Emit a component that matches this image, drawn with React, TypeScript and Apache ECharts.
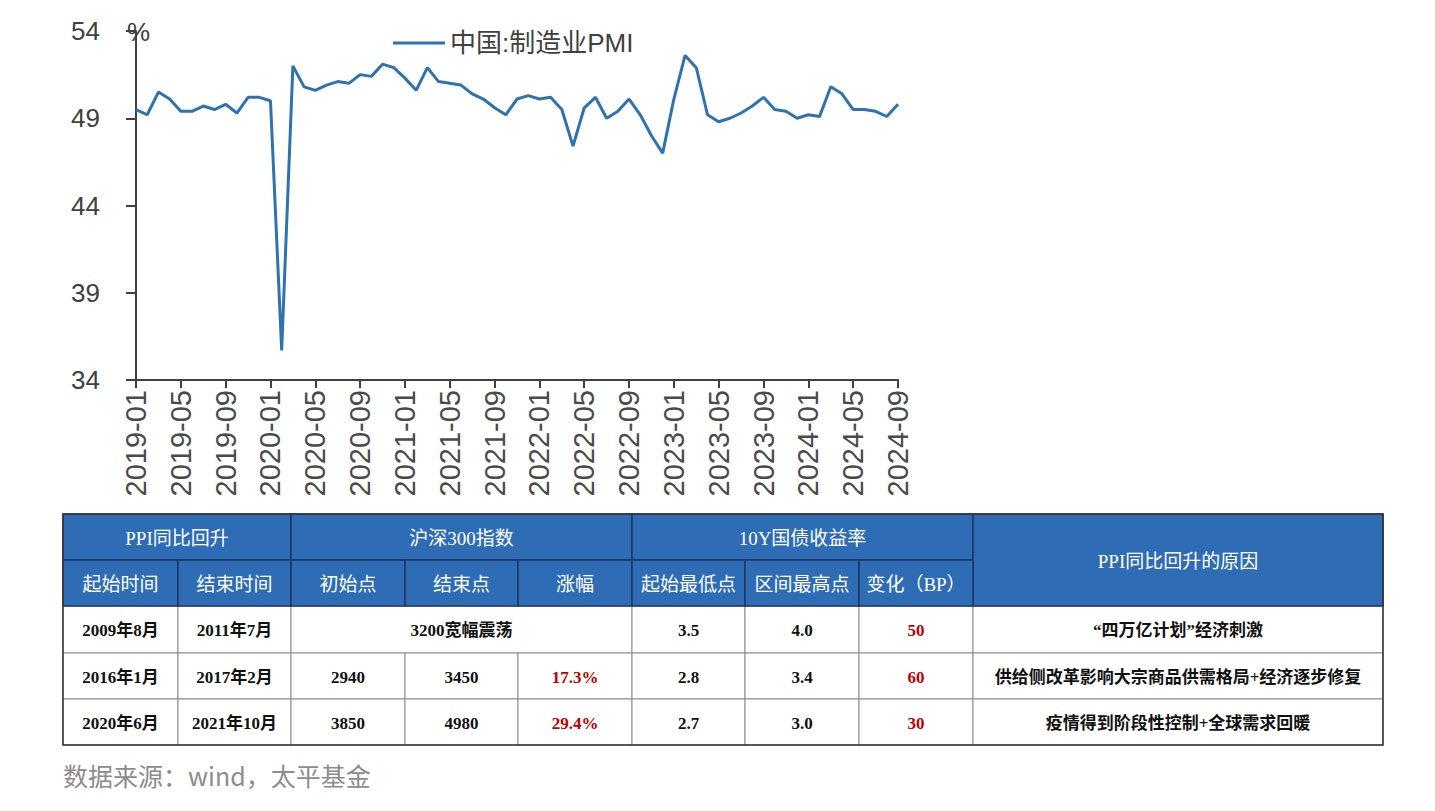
import React, { useEffect, useRef } from "react";
import * as echarts from "echarts";

// ---------- data ----------
const months: string[] = [];
for (let y = 2019; y <= 2024; y++) {
  for (let m = 1; m <= 12; m++) {
    if (y === 2024 && m > 9) break;
    months.push(`${y}-${String(m).padStart(2, "0")}`);
  }
}

const pmi = [
  49.5, 49.2, 50.5, 50.1, 49.4, 49.4, 49.7, 49.5, 49.8, 49.3, 50.2, 50.2,
  50.0, 35.7, 52.0, 50.8, 50.6, 50.9, 51.1, 51.0, 51.5, 51.4, 52.1, 51.9,
  51.3, 50.6, 51.9, 51.1, 51.0, 50.9, 50.4, 50.1, 49.6, 49.2, 50.1, 50.3,
  50.1, 50.2, 49.5, 47.4, 49.6, 50.2, 49.0, 49.4, 50.1, 49.2, 48.0, 47.0,
  50.1, 52.6, 51.9, 49.2, 48.8, 49.0, 49.3, 49.7, 50.2, 49.5, 49.4, 49.0,
  49.2, 49.1, 50.8, 50.4, 49.5, 49.5, 49.4, 49.1, 49.8,
];

const seriesName = "中国:制造业PMI";
const yUnit = "%";

// table data
const groupHeaders = ["PPI同比回升", "沪深300指数", "10Y国债收益率", "PPI同比回升的原因"];
const subHeaders = ["起始时间", "结束时间", "初始点", "结束点", "涨幅", "起始最低点", "区间最高点", "变化（BP）"];
const startDates = ["2009年8月", "2016年1月", "2020年6月"];
const endDates = ["2011年7月", "2017年2月", "2021年10月"];
const csiNote = ["3200宽幅震荡", "", ""];
const csiStart = ["", "2940", "3850"];
const csiEnd = ["", "3450", "4980"];
const csiGain = ["", "17.3%", "29.4%"];
const yieldLow = ["3.5", "2.8", "2.7"];
const yieldHigh = ["4.0", "3.4", "3.0"];
const yieldChangeBP = ["50", "60", "30"];
const reasons = [
  "“四万亿计划”经济刺激",
  "供给侧改革影响大宗商品供需格局+经济逐步修复",
  "疫情得到阶段性控制+全球需求回暖",
];
const sourceText = "数据来源：wind，太平基金";

// ---------- layout ----------
const colX = [63, 178, 291, 405, 518, 632, 745, 859, 973, 1383];
const rowY = [514, 560, 606, 653, 699, 745];
const HEADER_BG = "#2E6DB5";
const HEADER_LINE = "#1E3760";
const RED = "#C00000";
const SERIF = "'Liberation Serif', 'Noto Sans CJK SC', serif";
const SANS = "'Liberation Sans', 'Noto Sans CJK SC', sans-serif";

type Cell = { text: string; c0: number; c1: number; r0: number; r1: number; header: boolean; red?: boolean };

function buildCells(): Cell[] {
  const cells: Cell[] = [];
  cells.push({ text: groupHeaders[0], c0: 0, c1: 2, r0: 0, r1: 1, header: true });
  cells.push({ text: groupHeaders[1], c0: 2, c1: 5, r0: 0, r1: 1, header: true });
  cells.push({ text: groupHeaders[2], c0: 5, c1: 8, r0: 0, r1: 1, header: true });
  cells.push({ text: groupHeaders[3], c0: 8, c1: 9, r0: 0, r1: 2, header: true });
  subHeaders.forEach((t, i) => cells.push({ text: t, c0: i, c1: i + 1, r0: 1, r1: 2, header: true }));
  for (let i = 0; i < startDates.length; i++) {
    const r = i + 2;
    cells.push({ text: startDates[i], c0: 0, c1: 1, r0: r, r1: r + 1, header: false });
    cells.push({ text: endDates[i], c0: 1, c1: 2, r0: r, r1: r + 1, header: false });
    if (csiNote[i]) {
      cells.push({ text: csiNote[i], c0: 2, c1: 5, r0: r, r1: r + 1, header: false });
    } else {
      cells.push({ text: csiStart[i], c0: 2, c1: 3, r0: r, r1: r + 1, header: false });
      cells.push({ text: csiEnd[i], c0: 3, c1: 4, r0: r, r1: r + 1, header: false });
      cells.push({ text: csiGain[i], c0: 4, c1: 5, r0: r, r1: r + 1, header: false, red: true });
    }
    cells.push({ text: yieldLow[i], c0: 5, c1: 6, r0: r, r1: r + 1, header: false });
    cells.push({ text: yieldHigh[i], c0: 6, c1: 7, r0: r, r1: r + 1, header: false });
    cells.push({ text: yieldChangeBP[i], c0: 7, c1: 8, r0: r, r1: r + 1, header: false, red: true });
    cells.push({ text: reasons[i], c0: 8, c1: 9, r0: r, r1: r + 1, header: false });
  }
  return cells;
}

function tableGraphics(): any[] {
  const els: any[] = [];
  const cells = buildCells();
  cells.forEach((c) => {
    const x = colX[c.c0];
    const y = rowY[c.r0];
    const w = colX[c.c1] - x;
    const h = rowY[c.r1] - y;
    els.push({
      type: "rect",
      shape: { x, y, width: w, height: h },
      style: {
        fill: c.header ? HEADER_BG : "#ffffff",
        stroke: c.header ? HEADER_LINE : "#8a8a8a",
        lineWidth: c.header ? 1.5 : 1,
      },
      z: c.header ? 2 : 1,
    });
    els.push({
      type: "text",
      x: x + w / 2,
      y: y + h / 2 + 1,
      z: 5,
      style: {
        text: c.text,
        align: "center",
        verticalAlign: "middle",
        textAlign: "center",
        textVerticalAlign: "middle",
        fontFamily: SERIF,
        fontSize: c.header ? 19 : 17,
        fontWeight: c.header ? "normal" : "bold",
        fill: c.header ? "#ffffff" : c.red ? RED : "#111111",
      },
    });
  });
  // outer border
  els.push({
    type: "rect",
    shape: { x: colX[0], y: rowY[0], width: colX[colX.length - 1] - colX[0], height: rowY[rowY.length - 1] - rowY[0] },
    style: { fill: "none", stroke: "#333333", lineWidth: 1.5 },
    z: 6,
  });
  return els;
}

export default function App() {
  const ref = useRef<HTMLDivElement>(null);
  useEffect(() => {
    if (!ref.current) return;
    const chart = echarts.init(ref.current, null, { renderer: "svg" });
    chart.setOption({
      animation: false,
      backgroundColor: "#ffffff",
      grid: { left: 136, right: 537, top: 31, bottom: 431, containLabel: false },
      legend: {
        left: 388,
        top: 25,
        icon: "rect",
        itemWidth: 52,
        itemHeight: 3,
        itemGap: 7,
        textStyle: { fontSize: 26, color: "#404040", fontFamily: SANS },
        data: [seriesName],
      },
      xAxis: {
        type: "category",
        data: months,
        boundaryGap: false,
        axisLine: { lineStyle: { color: "#404040", width: 2 } },
        axisTick: { show: true, interval: 3, length: 8, inside: false, lineStyle: { color: "#404040", width: 2 } },
        axisLabel: { interval: 3, rotate: 90, fontSize: 29, color: "#4a4a4a", margin: 10, fontFamily: SANS },
        splitLine: { show: false },
      },
      yAxis: {
        type: "value",
        min: 34,
        max: 54,
        interval: 5,
        axisLine: { show: true, lineStyle: { color: "#404040", width: 2 } },
        axisTick: { show: true, length: 10, inside: false, lineStyle: { color: "#404040", width: 2 } },
        axisLabel: { fontSize: 26, color: "#404040", margin: 36, fontFamily: SANS },
        splitLine: { show: false },
      },
      series: [
        {
          name: seriesName,
          type: "line",
          data: pmi,
          showSymbol: false,
          symbol: "none",
          lineStyle: { color: "#2E72B0", width: 3 },
          itemStyle: { color: "#2E72B0" },
        },
      ],
      graphic: [
        {
          type: "text",
          x: 127,
          y: 32,
          style: {
            text: yUnit,
            align: "left",
            verticalAlign: "middle",
            textAlign: "left",
            textVerticalAlign: "middle",
            fontSize: 26,
            fontFamily: SANS,
            fill: "#404040",
          },
          z: 10,
        },
        ...tableGraphics(),
        {
          type: "text",
          x: 63,
          y: 775,
          style: {
            text: sourceText,
            align: "left",
            verticalAlign: "middle",
            textAlign: "left",
            textVerticalAlign: "middle",
            fontSize: 25,
            fontFamily: "'Noto Sans CJK SC', sans-serif",
            fill: "#8c8c8c",
          },
        },
      ],
    });
    return () => chart.dispose();
  }, []);
  return (
    <div
      ref={ref}
      style={{ position: "absolute", left: 0, top: 0, width: 1435, height: 811, background: "#fff" }}
    />
  );
}
